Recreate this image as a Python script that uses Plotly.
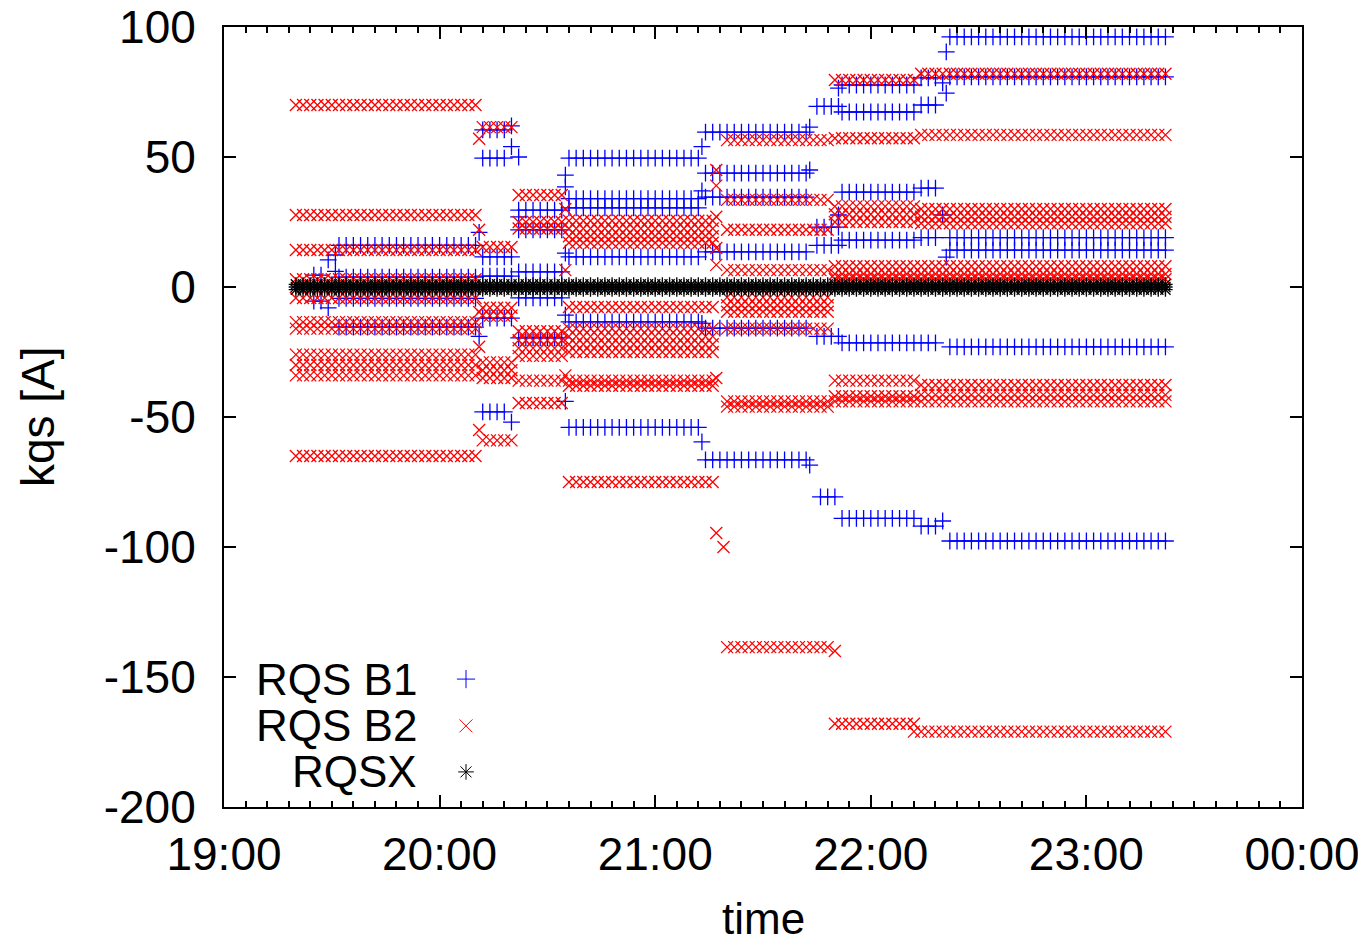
import plotly.graph_objects as go
from datetime import datetime, timedelta

# ---------------- data ----------------
# time origin of the plot and the sampling interval of the logged currents
DAY_START = "2011-05-01 19:00"
SAMPLE_MINUTES = 2

# Each level: (first sample, last sample, current [A]); times are minutes after 19:00
B1_LEVELS = [
    (25, 27, 4.6), (25, 27, -5.4), (29, 29, 10.4), (29, 29, -8.0), (31, 31, 12.3), (31, 31, 6.0),
    (32, 70, 16.0), (32, 70, 3.8), (32, 70, -4.4), (32, 70, -15.4),
    (71, 71, 21.0), (71, 71, -19.0),
    (72, 78, 60.4), (72, 78, 49.6), (72, 80, 11.6), (72, 80, 4.2), (72, 80, -12.0), (72, 78, -48.0),
    (80, 80, 62.0), (80, 80, 54.0), (80, 80, -52.0),
    (82, 82, 50.0), (82, 82, 27.0),
    (82, 94, 29.6), (82, 94, 22.0), (82, 94, 5.8), (82, 94, -4.2), (82, 94, -19.6),
    (95, 95, 43.0), (95, 95, 38.5), (95, 95, 13.0), (95, 95, -10.8), (95, 95, -44.0),
    (96, 132, 49.6), (96, 132, 34.0), (96, 132, 30.4), (96, 132, 11.6), (96, 132, -13.4), (96, 132, -54.0),
    (133, 133, 54.0), (133, 133, 37.0), (133, 133, -14.0), (133, 133, -59.6),
    (134, 162, 59.6), (134, 162, 43.8), (134, 162, 34.6), (134, 162, 13.5), (134, 162, -15.8), (134, 162, -66.5),
    (163, 163, 61.5), (163, 163, 45.0), (163, 163, -68.5),
    (165, 171, 69.5), (165, 171, 23.0), (165, 171, 16.0), (165, 171, -19.0), (166, 170, -80.7),
    (171, 171, 76.5), (171, 171, 27.7),
    (172, 192, 77.7), (172, 192, 67.3), (172, 192, 36.5), (172, 192, 18.0), (172, 192, -21.5), (172, 192, -89.0),
    (194, 198, 80.4), (194, 198, 70.0), (194, 198, 38.0), (194, 198, 19.0), (194, 198, -21.5), (194, 198, -92.0),
    (200, 200, 78.5), (200, 200, 27.7), (200, 200, -90.0),
    (201, 201, 90.4), (201, 201, 74.6), (201, 201, 11.5),
    (202, 262, 96.2), (202, 262, 80.8), (202, 262, 19.0), (202, 262, 14.2), (202, 262, -23.0), (202, 262, -97.7),
]

B2_LEVELS = [
    (20, 70, 70.0), (20, 70, 27.7), (20, 70, 14.2), (20, 70, 3.0), (20, 70, -4.2),
    (20, 70, -13.5), (20, 70, -16.0), (20, 70, -26.0), (20, 70, -30.0), (20, 70, -34.0), (20, 70, -65.0),
    (71, 71, 57.0), (71, 71, 22.0), (71, 71, -9.6), (71, 71, -23.0), (71, 71, -55.0),
    (72, 80, 61.5), (72, 80, 15.4), (72, 80, -8.0), (72, 80, -11.0),
    (72, 80, -29.0), (72, 80, -32.0), (72, 80, -35.0), (72, 80, -59.0),
    (82, 94, 35.4), (82, 94, 25.0), (82, 94, 22.5), (82, 94, -17.0), (82, 94, -20.5),
    (82, 94, -23.5), (82, 94, -26.5), (82, 94, -36.0), (82, 94, -44.6),
    (95, 95, 30.0), (95, 95, 6.5), (95, 95, -34.0),
    (96, 136, 25.5), (96, 136, 22.5), (96, 136, 19.5), (96, 136, 17.0), (96, 136, -7.7),
    (96, 136, -16.0), (96, 136, -19.0), (96, 136, -22.0), (96, 136, -25.0),
    (96, 136, -36.0), (96, 136, -38.0), (96, 136, -75.0),
    (137, 137, 45.0), (137, 137, 39.0), (137, 137, 27.0), (137, 137, 15.0), (137, 137, 8.5),
    (137, 137, -35.0), (137, 137, -94.6), (139, 139, -100.0),
    (140, 168, 56.5), (140, 168, 33.5), (140, 168, 22.0), (140, 168, 6.5), (140, 168, -4.0),
    (140, 168, -7.0), (140, 168, -9.5), (140, 168, -16.0), (140, 168, -44.0), (140, 168, -46.0),
    (140, 168, -138.5), (170, 170, -140.0),
    (170, 192, 79.6), (170, 192, 57.2), (170, 192, 31.0), (170, 192, 28.0), (170, 192, 25.0),
    (170, 192, 8.0), (170, 192, 5.0), (170, 192, 3.0), (170, 192, -36.0), (170, 192, -42.0),
    (170, 192, -44.0), (170, 192, -168.0),
    (194, 262, 82.0), (194, 262, 58.5), (194, 262, 30.0), (194, 262, 27.0), (194, 262, 24.5),
    (194, 262, 8.0), (194, 262, 5.0), (194, 262, 3.0), (194, 262, -37.7), (194, 262, -41.5),
    (194, 262, -44.0), (192, 262, -171.0),
]

RQSX_LEVELS = [
    (20, 262, 1.0), (20, 262, 0.0), (20, 262, -1.0),
]

SERIES_NAMES = ["RQS B1", "RQS B2", "RQSX"]
Y_TICK_VALUES = [-200, -150, -100, -50, 0, 50, 100]
Y_TICK_LABELS = ["-200", "-150", "-100", "-50", "0", "50", "100"]
X_AXIS_TITLE = "time"
Y_AXIS_TITLE = "kqs [A]"

# ---------------- build ----------------
t0 = datetime.strptime(DAY_START, "%Y-%m-%d %H:%M")


def expand(levels):
    xs, ys = [], []
    for first, last, value in levels:
        m = first
        while m <= last:
            xs.append(t0 + timedelta(minutes=m))
            ys.append(value)
            m += SAMPLE_MINUTES
    return xs, ys


FONT = "Liberation Sans, Arial, Helvetica, sans-serif"
FS = 46
styles = [
    dict(symbol="cross-thin", color="#0000ff", size=12),
    dict(symbol="x-thin", color="#ff0000", size=12),
    dict(symbol="asterisk", color="#000000", size=12),
]

fig = go.Figure()
for levels, st, name in zip([B1_LEVELS, B2_LEVELS, RQSX_LEVELS], styles, SERIES_NAMES):
    xs, ys = expand(levels)
    fig.add_trace(go.Scatter(
        x=xs, y=ys, mode="markers", name=name, showlegend=False,
        marker=dict(symbol=st["symbol"], size=st["size"], color=st["color"],
                    line=dict(width=1.3, color=st["color"])),
    ))

# gnuplot-style key: right-aligned text followed by the symbol
key_rows_y = [0.164, 0.104, 0.045]
for st, name, ky in zip(styles, SERIES_NAMES, key_rows_y):
    fig.add_trace(go.Scatter(
        x=[0.2245], y=[ky], mode="markers", xaxis="x2", yaxis="y2", showlegend=False,
        hoverinfo="skip",
        marker=dict(symbol=st["symbol"], size=13, color=st["color"],
                    line=dict(width=1, color=st["color"])),
    ))
    fig.add_annotation(x=0.18, y=ky, xref="paper", yref="paper", text=name,
                       showarrow=False, xanchor="right", yanchor="middle", borderpad=0,
                       font=dict(family=FONT, size=44, color="black"))

fig.add_annotation(x=0.5, y=-0.143, xref="paper", yref="paper", text=X_AXIS_TITLE,
                   showarrow=False, xanchor="center", yanchor="middle", borderpad=0,
                   font=dict(family=FONT, size=44, color="black"))
fig.add_annotation(x=-0.1725, y=0.5, xref="paper", yref="paper", text=Y_AXIS_TITLE,
                   showarrow=False, xanchor="center", yanchor="middle", textangle=-90,
                   font=dict(family=FONT, size=FS, color="black"))

# the page body adds an 8 px offset, so the figure is drawn 8 px smaller
fig.update_layout(
    width=1358, height=935,
    margin=dict(l=216, r=64, t=19, b=136, autoexpand=False),
    paper_bgcolor="white", plot_bgcolor="white",
    font=dict(family=FONT, size=FS, color="black"),
    showlegend=False,
    xaxis=dict(
        type="date",
        range=[t0, t0 + timedelta(hours=5)],
        tickformat="%H:%M", tick0=t0, dtick=3600000,
        ticks="inside", ticklen=12, tickwidth=2, tickcolor="black",
        minor=dict(dtick=360000, ticks="inside", ticklen=6, tickwidth=1.5, tickcolor="black"),
        showline=True, linewidth=2, linecolor="black", mirror="ticks",
        showgrid=False, zeroline=False, automargin=False,
        ticklabelstandoff=6, ticklabeloverflow="allow",
        tickfont=dict(family=FONT, size=FS),
    ),
    yaxis=dict(
        range=[-200, 100],
        tickvals=Y_TICK_VALUES, ticktext=Y_TICK_LABELS,
        ticks="inside", ticklen=12, tickwidth=2, tickcolor="black",
        showline=True, linewidth=2, linecolor="black", mirror="ticks",
        showgrid=False, zeroline=False, automargin=False,
        ticklabelstandoff=17, ticklabeloverflow="allow",
        tickfont=dict(family=FONT, size=FS),
    ),
    xaxis2=dict(overlaying="x", range=[0, 1], visible=False, fixedrange=True),
    yaxis2=dict(overlaying="y", range=[0, 1], visible=False, fixedrange=True),
)

fig.write_html("out.html")
